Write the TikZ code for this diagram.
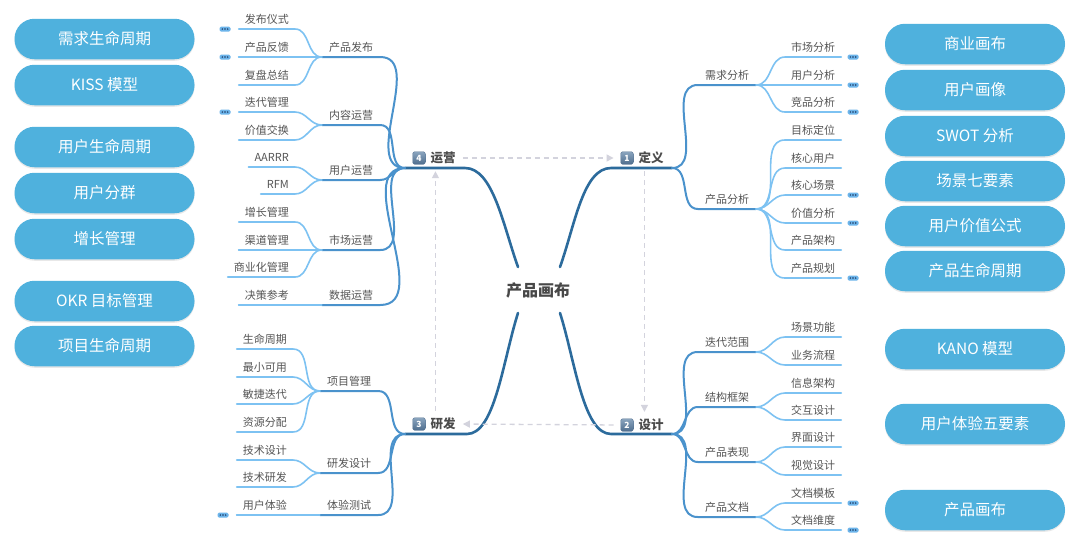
\documentclass[tikz,border=0pt]{standalone}
\usepackage{fontspec}
\setmainfont{Noto Sans CJK SC}
\usetikzlibrary{arrows.meta, positioning, calc, shadows}
\definecolor{trunk}{HTML}{2C6B9C}
\definecolor{bough}{HTML}{4A92CC}
\definecolor{twig}{HTML}{7DC2F2}
\definecolor{inkgray}{HTML}{555555}
\definecolor{pillblue}{HTML}{4FB1DD}
\definecolor{flowgray}{HTML}{D3D3DD}
\definecolor{badgetop}{HTML}{8AA4BE}
\definecolor{badgebot}{HTML}{4F6E8E}
\definecolor{dotfill}{HTML}{6CB4EA}
\definecolor{dotink}{HTML}{1F3B66}

\tikzset{
  twiglab/.style={text=inkgray, font=\fontsize{11}{13}\selectfont, text depth=0pt, inner xsep=6pt, inner ysep=5pt},
  boughlab/.style={twiglab, inner xsep=7pt},
  trunklab/.style={text=inkgray!90!black, font=\fontsize{12.5}{14}\selectfont\bfseries, inner sep=0pt},
  badge/.style={rounded corners=2pt, top color=badgetop, bottom color=badgebot, draw=badgebot, line width=0.4pt,
    text=white, font=\fontsize{8.5}{9}\selectfont\bfseries, minimum size=12.5pt, inner sep=0pt},
  twigline/.style={twig, line width=1.6pt, line cap=round},
  boughline/.style={bough, line width=2pt, line cap=round},
  trunkline/.style={trunk, line width=2.6pt, line cap=round},
  flow/.style={flowgray, line width=1.3pt, dash pattern=on 5pt off 4pt, -{Triangle[length=7pt, width=7pt]},
    shorten <=7pt, shorten >=7pt},
  pill/.style={fill=pillblue, text=white, rounded corners=20pt, minimum width=180pt, minimum height=40.5pt,
    font=\fontsize{15.5}{17}\selectfont, drop shadow={opacity=0.18, shadow xshift=0pt, shadow yshift=-1.5pt}},
  moredots/.style={fill=dotfill, rounded corners=1.5pt, minimum width=11pt, minimum height=5pt, inner sep=0pt,
    path picture={\foreach \d in {-2.7,0,2.7} \fill[dotink] ([xshift=\d pt]path picture bounding box.center) circle (0.8pt);}}
}

\begin{document}
\begin{tikzpicture}[x=1pt, y=-1pt, >=Stealth]
  \fill[white] (0,0) rectangle (1080,542);
  \useasboundingbox (0,0) rectangle (1080,542);

  % tools on both sides
  \foreach \txt/\py [count=\k] in {需求生命周期/39, KISS 模型/85, 用户生命周期/147, 用户分群/193, 增长管理/239,
      OKR 目标管理/301, 项目生命周期/346}
    \node[pill] (pL\k) at (104.5,\py) {\txt};
  \foreach \txt/\py [count=\k] in {商业画布/44, 用户画像/90, SWOT 分析/136, 场景七要素/181, 用户价值公式/226,
      产品生命周期/271, KANO 模型/349, 用户体验五要素/424, 产品画布/510}
    \node[pill] (pR\k) at (975,\py) {\txt};

  % centre and the four stages
  \node[font=\fontsize{16}{18}\selectfont\bfseries, text=inkgray!85!black, inner sep=2pt] (canvas) at (538,290) {产品画布};
  \node[badge] (b1) at (627,158) {1};
  \node[trunklab, right=5pt of b1] (dy) {定义};
  \node[badge] (b2) at (627,425) {2};
  \node[trunklab, right=5pt of b2] (sj) {设计};
  \node[badge] (b3) at (419,424) {3};
  \node[trunklab, right=5pt of b3] (yf) {研发};
  \node[badge] (b4) at (419,158) {4};
  \node[trunklab, right=5pt of b4] (yy) {运营};

  \coordinate (J1) at (672,168);
  \coordinate (J2) at (672,434);
  \coordinate (J3) at (405,434);
  \coordinate (J4) at (405,168);
  \coordinate (cNW) at ($(canvas.center)+(-20,-23)$);
  \coordinate (cNE) at ($(canvas.center)+(22,-23)$);
  \coordinate (cSW) at ($(canvas.center)+(-20,23)$);
  \coordinate (cSE) at ($(canvas.center)+(22,23)$);
  \draw[trunkline] (J4) -- (465,168) .. controls (493,168) and (503,225) .. (cNW);
  \draw[trunkline] (J1) -- (611,168) .. controls (583,168) and (575,225) .. (cNE);
  \draw[trunkline] (J3) -- (467,434) .. controls (495,434) and (503,360) .. (cSW);
  \draw[trunkline] (J2) -- (611,434) .. controls (583,434) and (575,360) .. (cSE);

  % the cycle
  \draw[flow] (yy.east) -- (b1.west);
  \draw[flow] ([xshift=6pt]dy.south west) -- ([xshift=6pt]sj.north west);
  \draw[flow] (b2.west) -- (yf.east);
  \draw[flow] ([xshift=5pt]yf.north west) -- ([xshift=5pt]yy.south west);

  % 1 定义
  \foreach \sub/\sy/\leaves in {需求分析/85/{市场分析/57/1,用户分析/85/1,竞品分析/112/1},
      产品分析/209/{目标定位/140/0,核心用户/168/0,核心场景/195/1,价值分析/223/1,产品架构/250/0,产品规划/278/1}}{
    \node[boughlab, anchor=south] (dyS\sy) at (727,\sy) {\sub};
    \draw[boughline] (J1) to[out=0, in=180] (dyS\sy.south west) -- (dyS\sy.south east);
    \foreach \leaf/\ly/\more in \leaves {
      \node[twiglab, anchor=south west] (dyL\ly) at (785,\ly) {\leaf};
      \draw[twigline] (dyS\sy.south east) to[out=0, in=180] (dyL\ly.south west) -- (dyL\ly.south east);
      \ifnum\more=1 \node[moredots] (dyD\ly) at (853,\ly) {}; \fi
    }
  }

  % 2 设计
  \foreach \sub/\sy/\leaves in {迭代范围/352/{场景功能/337/0,业务流程/365/0}, 结构框架/407/{信息架构/393/0,交互设计/420/0},
      产品表现/462/{界面设计/447/0,视觉设计/475/0}, 产品文档/517/{文档模板/503/1,文档维度/530/1}}{
    \node[boughlab, anchor=south] (sjS\sy) at (727,\sy) {\sub};
    \draw[boughline] (J2) to[out=0, in=180] (sjS\sy.south west) -- (sjS\sy.south east);
    \foreach \leaf/\ly/\more in \leaves {
      \node[twiglab, anchor=south west] (sjL\ly) at (785,\ly) {\leaf};
      \draw[twigline] (sjS\sy.south east) to[out=0, in=180] (sjL\ly.south west) -- (sjL\ly.south east);
      \ifnum\more=1 \node[moredots] (sjD\ly) at (853,\ly) {}; \fi
    }
  }

  % 3 研发
  \foreach \sub/\sy/\leaves in {项目管理/391/{生命周期/349/0,最小可用/377/0,敏捷迭代/404/0,资源分配/432/0},
      研发设计/473/{技术设计/460/0,技术研发/487/0}, 体验测试/515/{用户体验/515/1}}{
    \node[boughlab, anchor=south] (yfS\sy) at (349,\sy) {\sub};
    \draw[boughline] (yfS\sy.south west) -- (yfS\sy.south east) to[out=0, in=180] (J3);
    \foreach \leaf/\ly/\more in \leaves {
      \node[twiglab, anchor=south east] (yfL\ly) at (293,\ly) {\leaf};
      \draw[twigline] (yfL\ly.south west) -- (yfL\ly.south east) to[out=0, in=180] (yfS\sy.south west);
      \ifnum\more=1 \node[moredots] (yfD\ly) at (223,\ly) {}; \fi
    }
  }

  % 4 运营
  \foreach \sub/\sy/\leaves in {产品发布/57/{发布仪式/29/1,产品反馈/57/1,复盘总结/85/0}, 内容运营/125/{迭代管理/112/1,价值交换/140/0},
      用户运营/180/{AARRR/167/0,RFM/194/0}, 市场运营/250/{增长管理/222/0,渠道管理/250/0,商业化管理/277/0},
      数据运营/305/{决策参考/305/0}}{
    \node[boughlab, anchor=south] (yyS\sy) at (351,\sy) {\sub};
    \draw[boughline] (yyS\sy.south west) -- (yyS\sy.south east) to[out=0, in=180] (J4);
    \foreach \leaf/\ly/\more in \leaves {
      \node[twiglab, anchor=south east] (yyL\ly) at (295,\ly) {\leaf};
      \draw[twigline] (yyL\ly.south west) -- (yyL\ly.south east) to[out=0, in=180] (yyS\sy.south west);
      \ifnum\more=1 \node[moredots] (yyD\ly) at (225,\ly) {}; \fi
    }
  }
\end{tikzpicture}
\end{document}
